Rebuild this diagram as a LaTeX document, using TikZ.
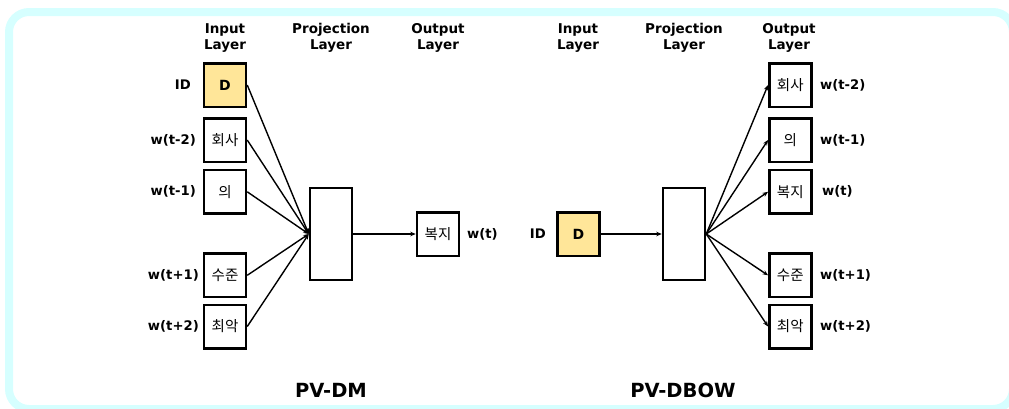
\documentclass[tikz,border=0pt]{standalone}
\usepackage{fontspec}
\setmainfont{DejaVu Sans}
\newfontfamily\kr{Noto Sans CJK KR}
\usetikzlibrary{arrows.meta}
\definecolor{framecyan}{RGB}{214,255,255}
\definecolor{dyellow}{RGB}{255,230,153}
\begin{document}
\begin{tikzpicture}[x=1pt,y=-1pt,
  box/.style={draw=black,line width=2.5pt,minimum width=42pt,minimum height=43.5pt,inner sep=0pt,font=\kr\fontsize{14.5}{16}\selectfont},
  dbox/.style={box,fill=dyellow,font=\bfseries\fontsize{14}{16}\selectfont},
  projbox/.style={draw=black,line width=2.5pt,minimum width=42pt,minimum height=92pt,inner sep=0pt},
  lbl/.style={font=\bfseries\fontsize{13.2}{15}\selectfont,inner sep=0pt},
  head/.style={font=\bfseries\fontsize{13.5}{16}\selectfont,align=center,inner sep=0pt},
  title/.style={font=\bfseries\fontsize{19.5}{22}\selectfont,inner sep=0pt},
  conn/.style={line width=1.4pt,-{Stealth[length=5.5pt,width=4.5pt]}}
]
\useasboundingbox (0,0) rectangle (1009,408);
\clip (0,0) rectangle (1009,408);
\draw[framecyan,line width=8pt,rounded corners=20pt] (9,12) rectangle (1013,409);

% ---------- PV-DM ----------
\node[head] (h1) at (225,38) {Input\\Layer};
\node[head] (h2) at (331,38) {Projection\\Layer};
\node[head] (h3) at (438,38) {Output\\Layer};

\node[dbox] (dmD) at (225,85) {D};
\node[box] (dm1) at (225,140) {회사};
\node[box] (dm2) at (225,191.8) {의};
\node[box] (dm3) at (225,275.3) {수준};
\node[box] (dm4) at (225,326.5) {최악};
\node[projbox] (dmP) at (331,234) {};
\node[box] (dmO) at (438,234) {복지};

\node[lbl,anchor=east] (lID) at (191,85) {ID};
\node[lbl,anchor=east] (l1) at (196,140) {w(t-2)};
\node[lbl,anchor=east] (l2) at (196,191.8) {w(t-1)};
\node[lbl,anchor=east] (l3) at (199,275.3) {w(t+1)};
\node[lbl,anchor=east] (l4) at (199,326.5) {w(t+2)};
\node[lbl,anchor=west] (lO) at (467,234) {w(t)};

\foreach \n in {dmD,dm1,dm2,dm3,dm4}{\draw[conn] (\n.east) -- (dmP.west);}
\draw[conn] (dmP.east) -- (dmO.west);

\node[title] (t1) at (331,390) {PV-DM};

% ---------- PV-DBOW ----------
\node[head] (g1) at (578,38) {Input\\Layer};
\node[head] (g2) at (684,38) {Projection\\Layer};
\node[head] (g3) at (789,38) {Output\\Layer};

\node[dbox] (dbD) at (578.5,234) {D};
\node[projbox] (dbP) at (684,234) {};
\node[box] (db1) at (790.3,85) {회사};
\node[box] (db2) at (790.3,140) {의};
\node[box] (db3) at (790.3,191.8) {복지};
\node[box] (db4) at (790.3,275.3) {수준};
\node[box] (db5) at (790.3,326.5) {최악};

\node[lbl,anchor=east] (rID) at (546,234) {ID};
\node[lbl,anchor=west] (r1) at (820,85) {w(t-2)};
\node[lbl,anchor=west] (r2) at (820,140) {w(t-1)};
\node[lbl,anchor=west] (r3) at (822,191.8) {w(t)};
\node[lbl,anchor=west] (r4) at (820,275.3) {w(t+1)};
\node[lbl,anchor=west] (r5) at (820,326.5) {w(t+2)};

\draw[conn] (dbD.east) -- (dbP.west);
\foreach \n in {db1,db2,db3,db4,db5}{\draw[conn] (dbP.east) -- (\n.west);}

\node[title] (t2) at (683,390) {PV-DBOW};
\end{tikzpicture}
\end{document}
